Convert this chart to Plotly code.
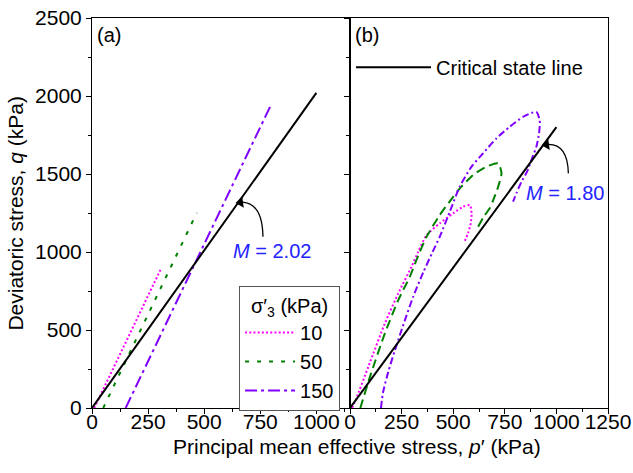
import plotly.graph_objects as go

# ---- panel (a): predicted stress paths (p', q) in kPa ----
a10_p = [10, 307]
a10_q = [0, 891]
a50_p = [50, 467]
a50_q = [0, 1251]
a150_p = [150, 800]
a150_q = [0, 1950]
csl_a_p = [0, 1000]
csl_a_q = [0, 2020]

# ---- panel (b): measured stress paths (p', q) in kPa ----
b10_p = [10, 30, 89, 169, 234, 298, 330, 371, 435, 500, 548, 581, 589, 585, 572, 552]
b10_q = [0, 60, 265, 543, 735, 906, 1000, 1109, 1184, 1248, 1290, 1301, 1248, 1184, 1120, 1060]
b50_p = [50, 57, 97, 169, 234, 290, 330, 371, 435, 500, 532, 597, 661, 718, 734, 718, 694, 677, 650, 621]
b50_q = [0, 30, 201, 479, 692, 842, 975, 1098, 1237, 1354, 1408, 1494, 1547, 1568, 1504, 1419, 1333, 1280, 1230, 1162]
b150_p = [150, 160, 185, 218, 260, 306, 355, 400, 435, 484, 532, 589, 645, 710, 774, 839, 887, 903, 919, 916, 903, 879, 858, 831, 806, 790]
b150_q = [0, 100, 230, 372, 540, 713, 870, 1000, 1098, 1260, 1420, 1547, 1633, 1729, 1803, 1867, 1895, 1898, 1846, 1761, 1675, 1590, 1515, 1451, 1376, 1323]
csl_b_p = [0, 1000]
csl_b_q = [0, 1800]

series_names = ["10", "50", "150"]
colors = ["#FF00FF", "#008000", "#7F00FF"]
M_a = 2.02
M_b = 1.80

x_ticks_a = [0, 250, 500, 750, 1000]
x_ticks_b = [0, 250, 500, 750, 1000, 1250]
y_ticks = [0, 500, 1000, 1500, 2000, 2500]

FONT = "Liberation Sans, Arial, sans-serif"
TEXT_BLUE = "#2323FF"

fig = go.Figure()

# panel (a)
dash_a = ["2px,2.2px", "4px,8px", "12px,4px,3px,4px"]
for name, px_, qy, c, d in zip(series_names, [a10_p, a50_p, a150_p], [a10_q, a50_q, a150_q], colors, dash_a):
    fig.add_trace(go.Scatter(x=px_, y=qy, mode="lines", name=name, legend="legend",
                             line=dict(color=c, width=2, dash=d), xaxis="x", yaxis="y"))
fig.add_trace(go.Scatter(x=csl_a_p, y=csl_a_q, mode="lines", showlegend=False,
                         line=dict(color="black", width=2), xaxis="x", yaxis="y"))

# panel (b)
dash_b = ["2px,2.2px", "9px,5px", "7px,3px,2px,3px"]
for name, px_, qy, c, d in zip(series_names, [b10_p, b50_p, b150_p], [b10_q, b50_q, b150_q], colors, dash_b):
    fig.add_trace(go.Scatter(x=px_, y=qy, mode="lines", name=name, showlegend=False,
                             line=dict(color=c, width=2, dash=d, shape="spline", smoothing=0.6),
                             xaxis="x2", yaxis="y2"))
fig.add_trace(go.Scatter(x=csl_b_p, y=csl_b_q, mode="lines", name="Critical state line",
                         legend="legend2", line=dict(color="black", width=2),
                         xaxis="x2", yaxis="y2"))

# curved pointers from the M labels to the critical state lines, with arrowheads
fig.add_shape(type="path", path="M 762,1098 Q 760,1310 672,1320", xref="x", yref="y",
              line=dict(color="black", width=1.3))
fig.add_shape(type="path", path="M 1058,1504 Q 1055,1690 962,1690", xref="x2", yref="y2",
              line=dict(color="black", width=1.3))
fig.add_trace(go.Scatter(x=[662], y=[1318], mode="markers", showlegend=False, hoverinfo="skip",
                         marker=dict(symbol="triangle-left", size=10, color="black", angle=-8),
                         xaxis="x", yaxis="y"))
fig.add_trace(go.Scatter(x=[952], y=[1689], mode="markers", showlegend=False, hoverinfo="skip",
                         marker=dict(symbol="triangle-left", size=10, color="black", angle=-8),
                         xaxis="x2", yaxis="y2"))

axis_common = dict(showline=True, linecolor="black", linewidth=1, mirror=True,
                   ticks="outside", ticklen=5, tickwidth=1, tickcolor="black",
                   showgrid=False, zeroline=False, automargin=False,
                   tickfont=dict(family=FONT, size=21, color="black"))

fig.update_layout(
    width=633, height=473,
    margin=dict(l=92, r=25, t=18, b=65),
    paper_bgcolor="white", plot_bgcolor="white",
    font=dict(family=FONT, size=20, color="black"),
    xaxis=dict(domain=[0, 0.5], range=[0, 1150], tickvals=x_ticks_a, ticklabelstandoff=-10,
               minor=dict(ticks="outside", ticklen=3, dtick=125, tick0=0, tickcolor="black"),
               anchor="y", **axis_common),
    yaxis=dict(range=[0, 2500], tickvals=y_ticks,
               minor=dict(ticks="outside", ticklen=3, dtick=250, tick0=0, tickcolor="black"),
               anchor="x", **axis_common),
    xaxis2=dict(domain=[0.5, 1], range=[0, 1250], tickvals=x_ticks_b, ticklabelstandoff=-10,
                minor=dict(ticks="outside", ticklen=3, dtick=125, tick0=0, tickcolor="black"),
                anchor="y2", **axis_common),
    yaxis2=dict(range=[0, 2500], tickvals=y_ticks, showticklabels=False,
                minor=dict(ticks="outside", ticklen=3, dtick=250, tick0=0, tickcolor="black"),
                anchor="x2", **axis_common),
    legend=dict(x=0.285, y=0.313, xanchor="left", yanchor="top",
                bgcolor="white", bordercolor="#555555", borderwidth=1,
                itemwidth=50, tracegroupgap=0,
                font=dict(family=FONT, size=20),
                title=dict(text="σ′<sub>3</sub> (kPa)", side="top center",
                           font=dict(family=FONT, size=20))),
    legend2=dict(x=0.502, y=0.924, xanchor="left", yanchor="top",
                 bgcolor="rgba(0,0,0,0)", borderwidth=0, itemwidth=75,
                 font=dict(family=FONT, size=20)),
)

annotations = [
    dict(text="(a)", x=0.006, y=0.99, xref="paper", yref="paper",
         xanchor="left", yanchor="top", showarrow=False, font=dict(size=20)),
    dict(text="(b)", x=0.506, y=0.99, xref="paper", yref="paper",
         xanchor="left", yanchor="top", showarrow=False, font=dict(size=20)),
    dict(text="Principal mean effective stress, <i>p</i>′ (kPa)", x=0.514, y=-0.098,
         xref="paper", yref="paper", xanchor="center", yanchor="middle",
         showarrow=False, font=dict(size=21)),
    dict(text="Deviatoric stress, <i>q</i> (kPa)", x=-0.15, y=0.5,
         xref="paper", yref="paper", xanchor="center", yanchor="middle",
         textangle=-90, showarrow=False, font=dict(size=21)),
    dict(text=f"<i>M</i> = {M_a:.2f}", x=802, y=1008, xref="x", yref="y",
         showarrow=False, font=dict(size=20, color=TEXT_BLUE)),
    dict(text=f"<i>M</i> = {M_b:.2f}", x=1040, y=1378, xref="x2", yref="y2",
         showarrow=False, font=dict(size=20, color=TEXT_BLUE)),
]
fig.update_layout(annotations=annotations)

fig.write_html("out.html")
